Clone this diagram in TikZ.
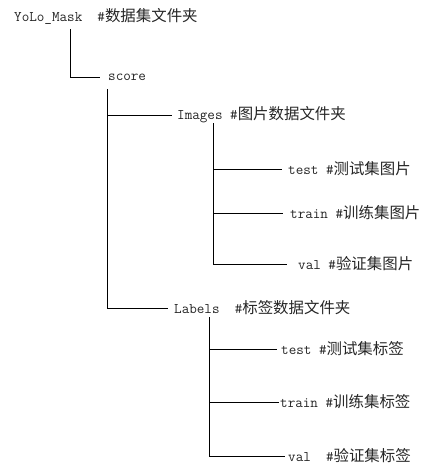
\documentclass[tikz,border=0pt]{standalone}
\usepackage{fontspec}
\newfontfamily\cjk{Noto Sans CJK SC}[Scale=1.05]
\begin{document}
\begin{tikzpicture}[x=1pt,y=-1pt,
  lbl/.style={anchor=west,inner sep=0pt,font=\fontsize{14.7}{16}\selectfont\ttfamily,text=black!85},
  conn/.style={draw=black,line width=0.8pt}]
\useasboundingbox (0,0) rectangle (443,474);
\node[lbl] (yolo) at (14,16) {YoLo\_Mask~~\#{\cjk 数据集文件夹}};
\node[lbl] (score) at (108,77) {score};
\node[lbl] (images) at (177,115) {Images~\#{\cjk 图片数据文件夹}};
\node[lbl] (itest) at (288,169) {test~\#{\cjk 测试集图片}};
\node[lbl] (itrain) at (290,213) {train~\#{\cjk 训练集图片}};
\node[lbl] (ival) at (298,264) {val~\#{\cjk 验证集图片}};
\node[lbl] (labels) at (174,308) {Labels~~\#{\cjk 标签数据文件夹}};
\node[lbl] (ltest) at (281,349) {test~\#{\cjk 测试集标签}};
\node[lbl] (ltrain) at (280,402) {train~\#{\cjk 训练集标签}};
\node[lbl] (lval) at (288,456) {val~~\#{\cjk 验证集标签}};
% connectors
\draw[conn] ([shift={(56,13)}]yolo.west) |- ([xshift=-8pt]score.west);
\draw[conn] ([shift={(-1,12)}]score.west) |- ([xshift=-5pt]images.west)
            ([shift={(-1,12)}]score.west) |- ([xshift=-6pt]labels.west);
\draw[conn] ([shift={(36,8)}]images.west) |- ([xshift=-6pt]itest.west)
            ([shift={(36,8)}]images.west) |- ([xshift=-7pt]itrain.west)
            ([shift={(36,8)}]images.west) |- ([xshift=-11pt]ival.west);
\draw[conn] ([shift={(35,9)}]labels.west) |- ([xshift=-4pt]ltest.west)
            ([shift={(35,9)}]labels.west) |- ([xshift=-1pt]ltrain.west)
            ([shift={(35,9)}]labels.west) |- ([xshift=-3pt]lval.west);
\end{tikzpicture}
\end{document}
